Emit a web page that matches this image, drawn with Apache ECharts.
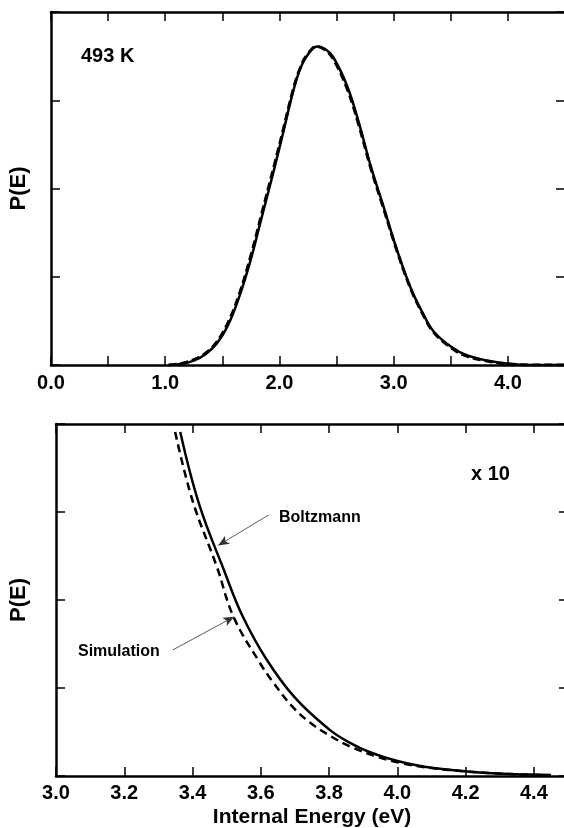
<!DOCTYPE html>
<html>
<head>
<meta charset="utf-8">
<script src="https://cdn.jsdelivr.net/npm/echarts@6/dist/echarts.min.js"></script>
<style>html,body{margin:0;padding:0;background:#fff}#c{width:564px;height:828px}</style>
</head>
<body>
<div id="c"></div>
<script>
// ---- data ----
const topEnergy      = [1.03,1.15,1.25,1.35,1.45,1.55,1.65,1.75,1.84,1.95,2.03,2.12,2.18,2.24,2.33,2.40,2.47,2.59,2.69,2.80,2.91,3.03,3.15,3.25,3.35,3.51,3.64,3.84,4.00,4.20,4.50];
const topBoltzmann   = [0,0.015,0.05,0.12,0.24,0.45,0.78,1.20,1.65,2.20,2.62,3.10,3.35,3.50,3.61,3.58,3.49,3.17,2.77,2.25,1.80,1.30,0.87,0.60,0.38,0.20,0.11,0.045,0.014,0,0];
const topSimulation  = [0,0.02,0.06,0.13,0.26,0.48,0.81,1.24,1.69,2.24,2.65,3.12,3.36,3.51,3.61,3.57,3.47,3.14,2.74,2.23,1.78,1.29,0.86,0.59,0.37,0.19,0.10,0.04,0.012,0,0];

const tailEnergyB    = [3.364,3.42,3.493,3.545,3.616,3.70,3.80,3.86,3.92,4.00,4.08,4.165,4.26,4.355,4.45];
const tailBoltzmann  = [3.91,3.08,2.33,1.83,1.33,0.89,0.53,0.38,0.27,0.17,0.105,0.065,0.035,0.02,0.01];
const tailEnergyS    = [3.349,3.40,3.471,3.52,3.595,3.637,3.69,3.743,3.806,3.859,3.933,4.007,4.10,4.207,4.31,4.418];
const tailSimulation = [3.91,3.13,2.38,1.81,1.30,1.06,0.80,0.61,0.45,0.34,0.23,0.15,0.09,0.05,0.025,0.01];

const topXRange  = [0, 4.5, 0.5];
const tailXRange = [3.0, 4.5, 0.2];
const yRange     = [0, 4, 1];

const arrowBoltzmann  = [[3.623, 2.966], [3.475, 2.62]];
const arrowSimulation = [[3.342, 1.432], [3.522, 1.81]];

// ---- chart ----
const FONT = '"Liberation Sans", Arial, sans-serif';
const pairs = (xs, ys) => xs.map((x, i) => [x, ys[i]]);
const axisLine = {show: true, onZero: false, lineStyle: {color: '#000', width: 2.5}};
const tickIn = {show: true, inside: true, length: 9, lineStyle: {color: '#000', width: 1.5}};
const lbl = {color: '#000', fontFamily: FONT, fontWeight: 'bold', fontSize: 20};
const plain = {axisLine, axisTick: tickIn, axisLabel: {show: false}, splitLine: {show: false}};

const chart = echarts.init(document.getElementById('c'), null, {renderer: 'canvas'});
chart.setOption({
  animation: false,
  backgroundColor: '#fff',
  grid: [
    {left: 51, top: 12, width: 514, height: 353, show: false, containLabel: false, outerBoundsMode: 'none'},
    {left: 56, top: 424, width: 512, height: 352, show: false, containLabel: false, outerBoundsMode: 'none'}
  ],
  xAxis: [
    Object.assign({type: 'value', gridIndex: 0, min: topXRange[0], max: topXRange[1], interval: topXRange[2]}, plain, {
     axisLabel: Object.assign({}, lbl, {margin: 8,
       formatter: v => Math.abs(v - Math.round(v)) < 1e-6 ? v.toFixed(1) : ''})}),
    Object.assign({type: 'value', gridIndex: 0, position: 'top', min: topXRange[0], max: topXRange[1], interval: topXRange[2]}, plain),
    Object.assign({type: 'value', gridIndex: 1, min: tailXRange[0], max: tailXRange[1], interval: tailXRange[2]}, plain, {
     axisLabel: Object.assign({}, lbl, {margin: 7, showMaxLabel: false, formatter: v => v.toFixed(1)}),
     name: 'Internal Energy (eV)', nameLocation: 'middle', nameGap: 31,
     nameTextStyle: {color: '#000', fontFamily: FONT, fontWeight: 'bold', fontSize: 21}}),
    Object.assign({type: 'value', gridIndex: 1, position: 'top', min: tailXRange[0], max: tailXRange[1], interval: tailXRange[2]}, plain)
  ],
  yAxis: [
    Object.assign({type: 'value', gridIndex: 0, min: yRange[0], max: yRange[1], interval: yRange[2]}, plain, {
     name: 'P(E)', nameLocation: 'middle', nameGap: 21,
     nameTextStyle: {color: '#000', fontFamily: FONT, fontWeight: 'bold', fontSize: 22}}),
    Object.assign({type: 'value', gridIndex: 0, position: 'right', min: yRange[0], max: yRange[1], interval: yRange[2]}, plain),
    Object.assign({type: 'value', gridIndex: 1, min: yRange[0], max: yRange[1], interval: yRange[2]}, plain, {
     name: 'P(E)', nameLocation: 'middle', nameGap: 26,
     nameTextStyle: {color: '#000', fontFamily: FONT, fontWeight: 'bold', fontSize: 22}}),
    Object.assign({type: 'value', gridIndex: 1, position: 'right', min: yRange[0], max: yRange[1], interval: yRange[2]}, plain)
  ],
  series: [
    {name: 'Simulation', type: 'line', xAxisIndex: 0, yAxisIndex: 0, data: pairs(topEnergy, topSimulation),
     smooth: 0.4, showSymbol: false, lineStyle: {color: '#000', width: 3, type: [8, 4]}},
    {name: 'Boltzmann', type: 'line', xAxisIndex: 0, yAxisIndex: 0, data: pairs(topEnergy, topBoltzmann),
     smooth: 0.4, showSymbol: false, lineStyle: {color: '#000', width: 2.5}},
    {name: 'Simulation', type: 'line', xAxisIndex: 2, yAxisIndex: 2, data: pairs(tailEnergyS, tailSimulation),
     smooth: 0.4, showSymbol: false, lineStyle: {color: '#000', width: 2.5, type: [8, 5]},
     markLine: {silent: true, symbol: ['none', 'arrow'], symbolSize: [7, 11], label: {show: false},
       lineStyle: {color: '#333', width: 0.8, type: 'solid'},
       data: [[{coord: arrowSimulation[0]}, {coord: arrowSimulation[1]}]]}},
    {name: 'Boltzmann', type: 'line', xAxisIndex: 2, yAxisIndex: 2, data: pairs(tailEnergyB, tailBoltzmann),
     smooth: 0.4, showSymbol: false, lineStyle: {color: '#000', width: 2.5},
     markLine: {silent: true, symbol: ['none', 'arrow'], symbolSize: [7, 11], label: {show: false},
       lineStyle: {color: '#333', width: 0.8, type: 'solid'},
       data: [[{coord: arrowBoltzmann[0]}, {coord: arrowBoltzmann[1]}]]}}
  ],
  graphic: [
    {type: 'text', left: 81, top: 46, style: {text: '493 K', fill: '#000', font: 'bold 20px ' + FONT}},
    {type: 'text', left: 471, top: 464, style: {text: 'x 10', fill: '#000', font: 'bold 20px ' + FONT}},
    {type: 'text', left: 279, top: 510, style: {text: 'Boltzmann', fill: '#000', font: 'bold 16px ' + FONT}},
    {type: 'text', left: 78, top: 644, style: {text: 'Simulation', fill: '#000', font: 'bold 16px ' + FONT}}
  ]
});
</script>
</body>
</html>
